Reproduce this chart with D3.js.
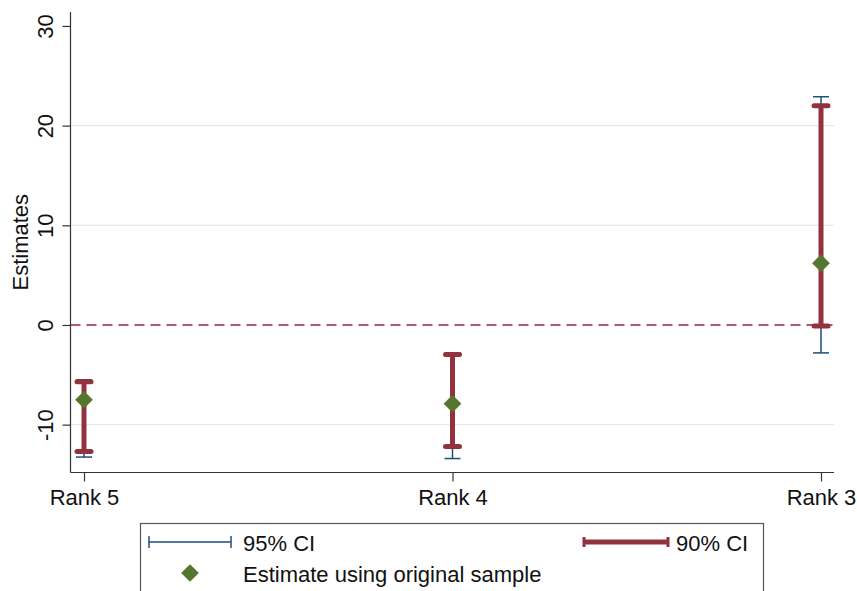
<!DOCTYPE html>
<html>
<head>
<meta charset="utf-8">
<script src="https://cdn.jsdelivr.net/npm/d3@7"></script>
<style>
html,body{margin:0;padding:0;background:#fff;}
svg{display:block;font-family:"Liberation Sans",Arial,Helvetica,sans-serif;}
</style>
</head>
<body>
<svg id="chart" width="857" height="591"></svg>
<script>
const categories = ["Rank 5", "Rank 4", "Rank 3"];
const estimates = [-7.5, -7.9, 6.2];
const ci95Low = [-13.25, -13.4, -2.8];
const ci95High = [-5.5, -2.8, 22.9];
const ci90Low = [-12.7, -12.2, -0.1];
const ci90High = [-5.7, -2.95, 22.0];
const yTicks = [-10, 0, 10, 20, 30];
const yTickLabels = ["-10", "0", "10", "20", "30"];
const gridValues = [-10, 10, 20];
const refLine = [0];
const legendLabels = ["95% CI", "90% CI", "Estimate using original sample"];

const data = categories.map((c, i) => ({
  cat: c, est: estimates[i], l95: ci95Low[i], h95: ci95High[i], l90: ci90Low[i], h90: ci90High[i]
}));

const FS = 22;
const col95 = "#1f4e79", col90 = "#93323f", colEst = "#55762f", colRef = "#9b2243";
const svg = d3.select("#chart");
const L = 70.5, R = 834, T = 12, B = 472.5;

const x = d3.scalePoint().domain(categories).range([84, 821]);
const y = d3.scaleLinear().domain([-14.8, 31.4]).range([B, T]);

// gridlines
svg.append("g").selectAll("line").data(gridValues).join("line")
  .attr("x1", L).attr("x2", R).attr("y1", d => y(d)).attr("y2", d => y(d))
  .attr("stroke", "#e6eaea").attr("stroke-width", 1.2);

// reference line
svg.append("g").selectAll("line").data(refLine).join("line")
  .attr("x1", L).attr("x2", R).attr("y1", d => y(d)).attr("y2", d => y(d))
  .attr("stroke", colRef).attr("stroke-width", 1.7).attr("stroke-dasharray", "10,6");

// y axis
const yAxis = svg.append("g").attr("transform", `translate(${L},0)`)
  .call(d3.axisLeft(y).tickValues(yTicks).tickSize(8)
    .tickFormat((d, i) => yTickLabels[i]));
yAxis.select(".domain").attr("d", `M0,${T}V${B}`).attr("stroke", "#333").attr("stroke-width", 1.2);
yAxis.selectAll(".tick line").attr("stroke", "#333").attr("stroke-width", 1.2);
yAxis.selectAll(".tick text")
  .attr("font-size", FS).attr("fill", "#111")
  .attr("x", null).attr("y", null).attr("dy", "0.35em")
  .attr("text-anchor", "middle")
  .attr("transform", "translate(-25,0) rotate(-90)");

// x axis
const xAxis = svg.append("g").attr("transform", `translate(0,${B})`)
  .call(d3.axisBottom(x).tickSize(9).tickPadding(8));
xAxis.select(".domain").attr("d", `M${L},0H${R}`).attr("stroke", "#333").attr("stroke-width", 1.2);
xAxis.selectAll(".tick line").attr("stroke", "#333").attr("stroke-width", 1.2);
xAxis.selectAll(".tick text").attr("font-size", FS).attr("fill", "#111");

// y title
svg.append("text").attr("transform", `translate(28,${(T + B) / 2}) rotate(-90)`)
  .attr("text-anchor", "middle").attr("font-size", FS).attr("fill", "#111").text("Estimates");

// 95% CI
const g95 = svg.append("g");
g95.selectAll("line.v").data(data).join("line").attr("class", "v")
  .attr("x1", d => x(d.cat)).attr("x2", d => x(d.cat)).attr("y1", d => y(d.l95)).attr("y2", d => y(d.h95))
  .attr("stroke", col95).attr("stroke-width", 1.5);
["l95", "h95"].forEach(k => {
  g95.selectAll("line." + k).data(data).join("line").attr("class", k)
    .attr("x1", d => x(d.cat) - 8).attr("x2", d => x(d.cat) + 8).attr("y1", d => y(d[k])).attr("y2", d => y(d[k]))
    .attr("stroke", col95).attr("stroke-width", 1.5);
});

// 90% CI
const g90 = svg.append("g");
g90.selectAll("line.v").data(data).join("line").attr("class", "v")
  .attr("x1", d => x(d.cat)).attr("x2", d => x(d.cat)).attr("y1", d => y(d.l90)).attr("y2", d => y(d.h90))
  .attr("stroke", col90).attr("stroke-width", 5);
["l90", "h90"].forEach(k => {
  g90.selectAll("line." + k).data(data).join("line").attr("class", k)
    .attr("x1", d => x(d.cat) - 7).attr("x2", d => x(d.cat) + 7).attr("y1", d => y(d[k])).attr("y2", d => y(d[k]))
    .attr("stroke", col90).attr("stroke-width", 5).attr("stroke-linecap", "round");
});

// estimates
const diamond = d3.symbol().type(d3.symbolDiamond2).size(200);
svg.append("g").selectAll("path").data(data).join("path")
  .attr("d", diamond).attr("transform", d => `translate(${x(d.cat)},${y(d.est)})`)
  .attr("fill", colEst);

// legend
const lg = svg.append("g");
lg.append("rect").attr("x", 140.5).attr("y", 523.5).attr("width", 623).attr("height", 80)
  .attr("fill", "#fff").attr("stroke", "#555").attr("stroke-width", 1.2);
// 95
lg.append("line").attr("x1", 149).attr("x2", 231).attr("y1", 542).attr("y2", 542).attr("stroke", col95).attr("stroke-width", 1.5);
[149, 231].forEach(xx => lg.append("line").attr("x1", xx).attr("x2", xx).attr("y1", 536).attr("y2", 548).attr("stroke", col95).attr("stroke-width", 1.5));
lg.append("text").attr("x", 243).attr("y", 543).attr("dy", "0.35em").attr("font-size", FS).attr("fill", "#111").text(legendLabels[0]);
// 90
lg.append("line").attr("x1", 584).attr("x2", 668).attr("y1", 542).attr("y2", 542).attr("stroke", col90).attr("stroke-width", 5);
[584, 668].forEach(xx => lg.append("line").attr("x1", xx).attr("x2", xx).attr("y1", 537).attr("y2", 547).attr("stroke", col90).attr("stroke-width", 3));
lg.append("text").attr("x", 676).attr("y", 543).attr("dy", "0.35em").attr("font-size", FS).attr("fill", "#111").text(legendLabels[1]);
// estimate
lg.append("path").attr("d", diamond).attr("transform", "translate(190,573)").attr("fill", colEst);
lg.append("text").attr("x", 243).attr("y", 574).attr("dy", "0.35em").attr("font-size", FS).attr("fill", "#111").text(legendLabels[2]);
</script>
</body>
</html>
